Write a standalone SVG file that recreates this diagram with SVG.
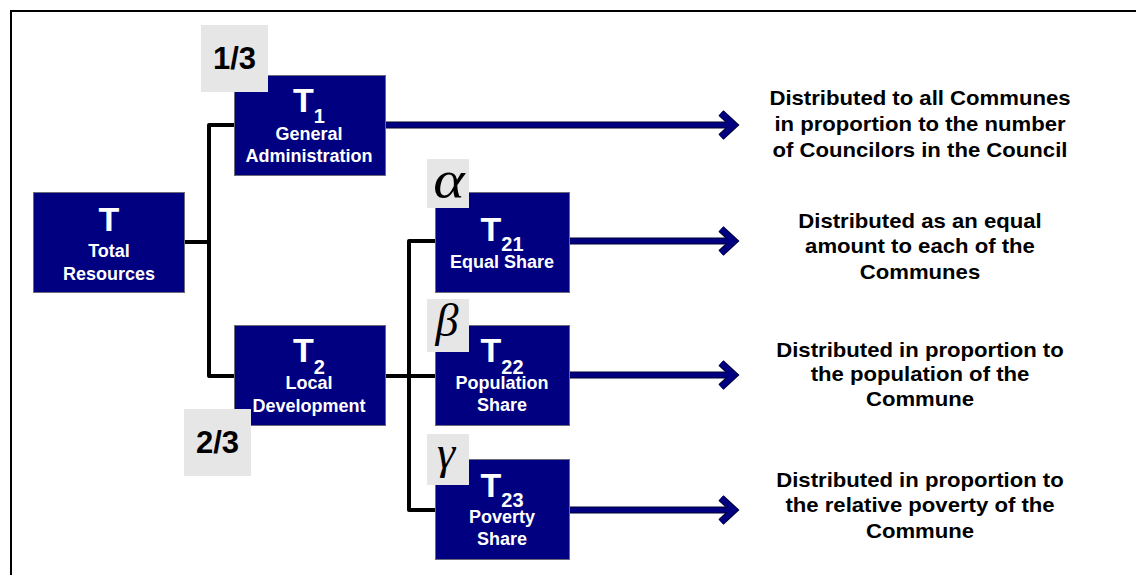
<svg xmlns="http://www.w3.org/2000/svg" width="1136" height="575" viewBox="0 0 1136 575">
<style>
.box{fill:#000080;stroke:#6a6a7a;stroke-width:1}
.lbl{fill:#e6e6e6}
.wt{fill:#fff;font-family:"Liberation Sans",Arial,sans-serif;font-weight:bold;text-anchor:middle}
.big{font-size:34px}
.sub{font-size:20px}
.sm{font-size:18px}
.frac{font-family:"Liberation Sans",Arial,sans-serif;font-weight:bold;font-size:31px;fill:#000;text-anchor:middle}
.greek{font-family:"Liberation Serif","Times New Roman",serif;font-style:italic;font-size:46px;fill:#000;text-anchor:middle}
.desc{font-family:"Liberation Sans",Arial,sans-serif;font-weight:bold;font-size:19.5px;fill:#000;text-anchor:middle}
.conn{fill:none;stroke:#000;stroke-width:4;stroke-linecap:round;stroke-linejoin:round}
.shaftb{fill:none;stroke:#000030;stroke-width:7}
.shaft{fill:none;stroke:#000080;stroke-width:5}
.headb{fill:none;stroke:#000030;stroke-width:7.5;stroke-linejoin:miter}
.head{fill:none;stroke:#000080;stroke-width:5.5;stroke-linejoin:miter}
</style>
<rect x="0" y="0" width="1136" height="575" fill="#fff"/>
<path d="M11,575 V11 H1136" fill="none" stroke="#000" stroke-width="2"/>

<g id="connectors">
  <path class="conn" d="M184,242 H209"/>
  <path class="conn" d="M234,125 H209 V376 H234"/>
  <path class="conn" d="M385,376 H435"/>
  <path class="conn" d="M435,241 H409 V510 H435"/>
  <g id="arrow-t1">
    <path class="shaftb" d="M385,125 H730"/><path class="headb" d="M721,113 L734,125 L721,137"/>
    <path class="shaft" d="M385,125 H730"/><path class="head" d="M721,113 L734,125 L721,137"/>
  </g>
  <g id="arrow-t21">
    <path class="shaftb" d="M569,241 H730"/><path class="headb" d="M721,229 L734,241 L721,253"/>
    <path class="shaft" d="M569,241 H730"/><path class="head" d="M721,229 L734,241 L721,253"/>
  </g>
  <g id="arrow-t22">
    <path class="shaftb" d="M569,375 H730"/><path class="headb" d="M721,363 L734,375 L721,387"/>
    <path class="shaft" d="M569,375 H730"/><path class="head" d="M721,363 L734,375 L721,387"/>
  </g>
  <g id="arrow-t23">
    <path class="shaftb" d="M569,510 H730"/><path class="headb" d="M721,498 L734,510 L721,522"/>
    <path class="shaft" d="M569,510 H730"/><path class="head" d="M721,498 L734,510 L721,522"/>
  </g>
</g>

<g id="node-T">
  <rect class="box" x="33.5" y="192.5" width="151" height="100"/>
  <text class="wt big" x="109" y="231">T</text>
  <text class="wt sm" x="109" y="257">Total</text>
  <text class="wt sm" x="109" y="280">Resources</text>
</g>

<g id="node-T1">
  <rect class="box" x="234.5" y="75.5" width="151" height="100"/>
  <text class="wt" x="309" y="112"><tspan class="big">T</tspan><tspan class="sub" dy="11">1</tspan></text>
  <text class="wt sm" x="309" y="140">General</text>
  <text class="wt sm" x="309" y="162">Administration</text>
</g>
<g id="label-1-3">
  <rect class="lbl" x="201" y="25" width="67" height="67"/>
  <text class="frac" x="234.5" y="69">1/3</text>
</g>

<g id="node-T2">
  <rect class="box" x="234.5" y="325.5" width="151" height="100"/>
  <text class="wt" x="309" y="362"><tspan class="big">T</tspan><tspan class="sub" dy="12">2</tspan></text>
  <text class="wt sm" x="309" y="389">Local</text>
  <text class="wt sm" x="309" y="412">Development</text>
</g>
<g id="label-2-3">
  <rect class="lbl" x="184" y="409" width="67" height="67"/>
  <text class="frac" x="217.5" y="453">2/3</text>
</g>

<g id="node-T21">
  <rect class="box" x="435.5" y="192.5" width="134" height="100"/>
  <text class="wt" x="502" y="241"><tspan class="big">T</tspan><tspan class="sub" dy="10">21</tspan></text>
  <text class="wt sm" x="502" y="268">Equal Share</text>
</g>
<g id="label-alpha">
  <rect class="lbl" x="427" y="159" width="42" height="49"/>
  <text class="greek" x="0" y="0" transform="translate(449,197) scale(1.3,1.15)">α</text>
</g>

<g id="node-T22">
  <rect class="box" x="435.5" y="325.5" width="134" height="100"/>
  <text class="wt" x="502" y="362"><tspan class="big">T</tspan><tspan class="sub" dy="12">22</tspan></text>
  <text class="wt sm" x="502" y="389">Population</text>
  <text class="wt sm" x="502" y="411">Share</text>
</g>
<g id="label-beta">
  <rect class="lbl" x="427" y="299" width="42" height="53"/>
  <text class="greek" x="447" y="336">β</text>
</g>

<g id="node-T23">
  <rect class="box" x="435.5" y="459.5" width="134" height="100"/>
  <text class="wt" x="502" y="497"><tspan class="big">T</tspan><tspan class="sub" dy="10">23</tspan></text>
  <text class="wt sm" x="502" y="523">Poverty</text>
  <text class="wt sm" x="502" y="545">Share</text>
</g>
<g id="label-gamma">
  <rect class="lbl" x="427" y="434" width="42" height="51"/>
  <text class="greek" x="446" y="468">γ</text>
</g>

<g id="desc-1" transform="translate(920,0) scale(1.135,1) translate(-920,0)">
  <text class="desc" x="920" y="105">Distributed to all Communes</text>
  <text class="desc" x="920" y="131">in proportion to the number</text>
  <text class="desc" x="920" y="157">of Councilors in the Council</text>
</g>
<g id="desc-2" transform="translate(920,0) scale(1.135,1) translate(-920,0)">
  <text class="desc" x="920" y="228">Distributed as an equal</text>
  <text class="desc" x="920" y="253">amount to each of the</text>
  <text class="desc" x="920" y="279">Communes</text>
</g>
<g id="desc-3" transform="translate(920,0) scale(1.135,1) translate(-920,0)">
  <text class="desc" x="920" y="357">Distributed in proportion to</text>
  <text class="desc" x="920" y="381">the population of the</text>
  <text class="desc" x="920" y="406">Commune</text>
</g>
<g id="desc-4" transform="translate(920,0) scale(1.135,1) translate(-920,0)">
  <text class="desc" x="920" y="487">Distributed in proportion to</text>
  <text class="desc" x="920" y="512">the relative poverty of the</text>
  <text class="desc" x="920" y="538">Commune</text>
</g>
</svg>
